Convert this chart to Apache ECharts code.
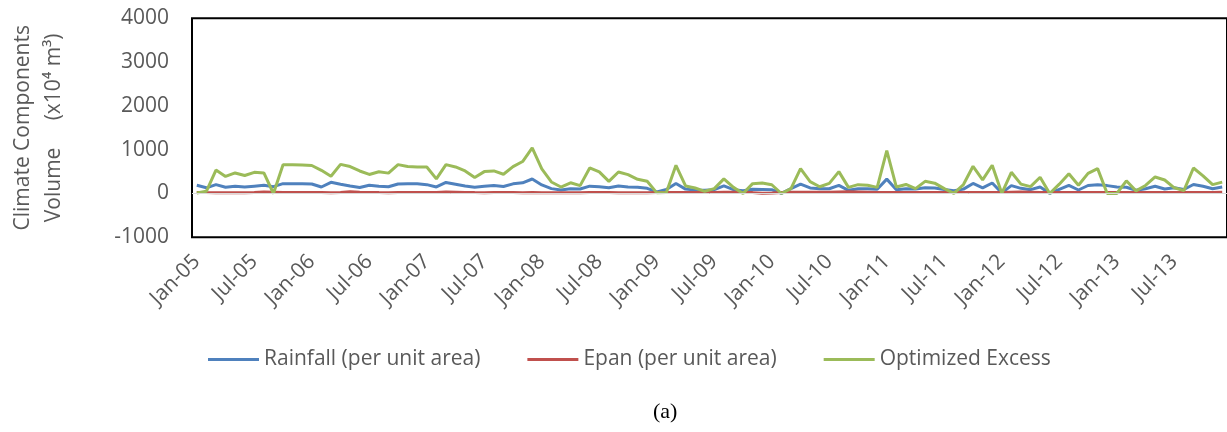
<!DOCTYPE html>
<html>
<head>
<meta charset="utf-8">
<script src="https://cdn.jsdelivr.net/npm/echarts@6/dist/echarts.min.js"></script>
<style>
html,body{margin:0;padding:0;background:#fff;}
#chart{width:1227px;height:432px;}
</style>
</head>
<body>
<div id="chart"></div>
<script>
const MONTHS = ['Jan','Feb','Mar','Apr','May','Jun','Jul','Aug','Sep','Oct','Nov','Dec'];
const YEARS = ['05','06','07','08','09','10','11','12','13'];
const categories = [];
YEARS.forEach(function (y) { MONTHS.forEach(function (m) { categories.push(m + '-' + y); }); });

const yTicks = { min: -1000, max: 4000, interval: 1000 };

const rainfall = [
  187,130,202,142,168,149,168,187,156,225,225,222,
  217,149,256,210,172,138,187,168,153,218,225,220,
  202,149,252,213,172,145,164,183,160,221,244,331,
  195,111,80,108,104,168,152,130,172,149,145,118,
  35,90,229,100,80,73,88,176,88,65,96,92,
  88,5,111,215,126,111,108,187,73,108,108,95,
  328,88,111,103,130,126,92,65,100,229,130,240,
  15,180,118,88,149,5,96,187,80,183,202,180,
  149,142,73,108,164,104,130,92,206,164,108,149
];

const epan = [
  25,20,18,15,15,18,25,35,30,22,20,20,
  22,20,18,22,40,30,25,20,18,20,22,20,
  20,25,35,30,25,20,18,20,22,20,18,20,
  18,15,15,15,15,20,25,20,15,15,15,18,
  20,20,20,22,25,25,25,28,30,25,20,5,
  10,25,30,30,30,28,30,35,40,35,30,25,
  22,20,22,25,25,25,22,20,22,25,25,25,
  25,30,35,30,25,22,20,25,25,25,25,25,
  25,22,22,25,25,25,22,22,22,25,25,30
];

const optimizedExcess = [
  10,50,535,390,469,410,484,469,0,655,655,650,
  640,530,395,665,615,514,435,495,465,659,615,606,
  606,335,659,606,515,365,500,515,440,615,730,1040,
  560,263,148,245,180,583,495,278,491,431,324,278,
  15,25,644,172,126,50,111,335,140,0,225,240,
  200,0,111,568,270,155,232,500,140,202,187,140,
  978,148,206,111,278,236,111,5,205,621,312,644,
  5,485,215,156,370,0,213,450,187,460,568,0,
  0,290,60,183,377,309,130,65,583,404,202,260
];

const FONT = '"Open Sans", "DejaVu Sans", sans-serif';
const GREY = '#595959';

const chart = echarts.init(document.getElementById('chart'), null, { renderer: 'canvas' });
chart.setOption({
  animation: false,
  backgroundColor: '#fff',
  grid: {
    left: 185, top: 18.3, width: categories.length * 9.7, height: 219,
    show: true, borderColor: '#000', borderWidth: 2, backgroundColor: 'transparent'
  },
  legend: {
    left: 203, top: 344,
    icon: 'rect',
    itemWidth: 51, itemHeight: 3, itemGap: 47,
    textStyle: { fontFamily: FONT, fontSize: 21, color: GREY },
    data: ['Rainfall (per unit area)', 'Epan (per unit area)', 'Optimized Excess']
  },
  xAxis: {
    type: 'category',
    data: categories,
    boundaryGap: true,
    axisLine: { show: false, onZero: false },
    axisTick: { show: false },
    splitLine: { show: false },
    axisLabel: {
      interval: 5, rotate: 45, margin: 21,
      fontFamily: FONT, fontSize: 21, color: GREY
    }
  },
  yAxis: {
    type: 'value',
    min: yTicks.min, max: yTicks.max, interval: yTicks.interval,
    axisLine: { show: false }, axisTick: { show: false }, splitLine: { show: false },
    axisLabel: {
      margin: 23, fontFamily: FONT, fontSize: 21, color: GREY,
      formatter: function (v) { return String(v); }
    },
    name: 'Climate Components\nVolume     (x10\u2074 m\u00B3)',
    nameLocation: 'middle', nameRotate: 90, nameGap: 122,
    nameTextStyle: { fontFamily: FONT, fontSize: 21, color: GREY, lineHeight: 31, align: 'center' }
  },
  graphic: [{
    type: 'text', left: 653, top: 401,
    style: { text: '(a)', font: '22px "Liberation Serif", "Times New Roman", serif', fill: '#000' }
  }],
  series: [
    {
      name: 'Rainfall (per unit area)', type: 'line', data: rainfall,
      symbol: 'none', showSymbol: false,
      lineStyle: { width: 3, color: '#4F81BD' }, itemStyle: { color: '#4F81BD' },
      markLine: {
        silent: true, symbol: 'none', label: { show: false },
        lineStyle: { color: '#D9D9D9', width: 1, type: 'solid' },
        data: [{ yAxis: 0 }]
      }
    },
    {
      name: 'Epan (per unit area)', type: 'line', data: epan,
      symbol: 'none', showSymbol: false,
      lineStyle: { width: 3, color: '#C0504D' }, itemStyle: { color: '#C0504D' }
    },
    {
      name: 'Optimized Excess', type: 'line', data: optimizedExcess,
      symbol: 'none', showSymbol: false,
      lineStyle: { width: 3, color: '#9BBB59' }, itemStyle: { color: '#9BBB59' }
    }
  ]
});
</script>
</body>
</html>
